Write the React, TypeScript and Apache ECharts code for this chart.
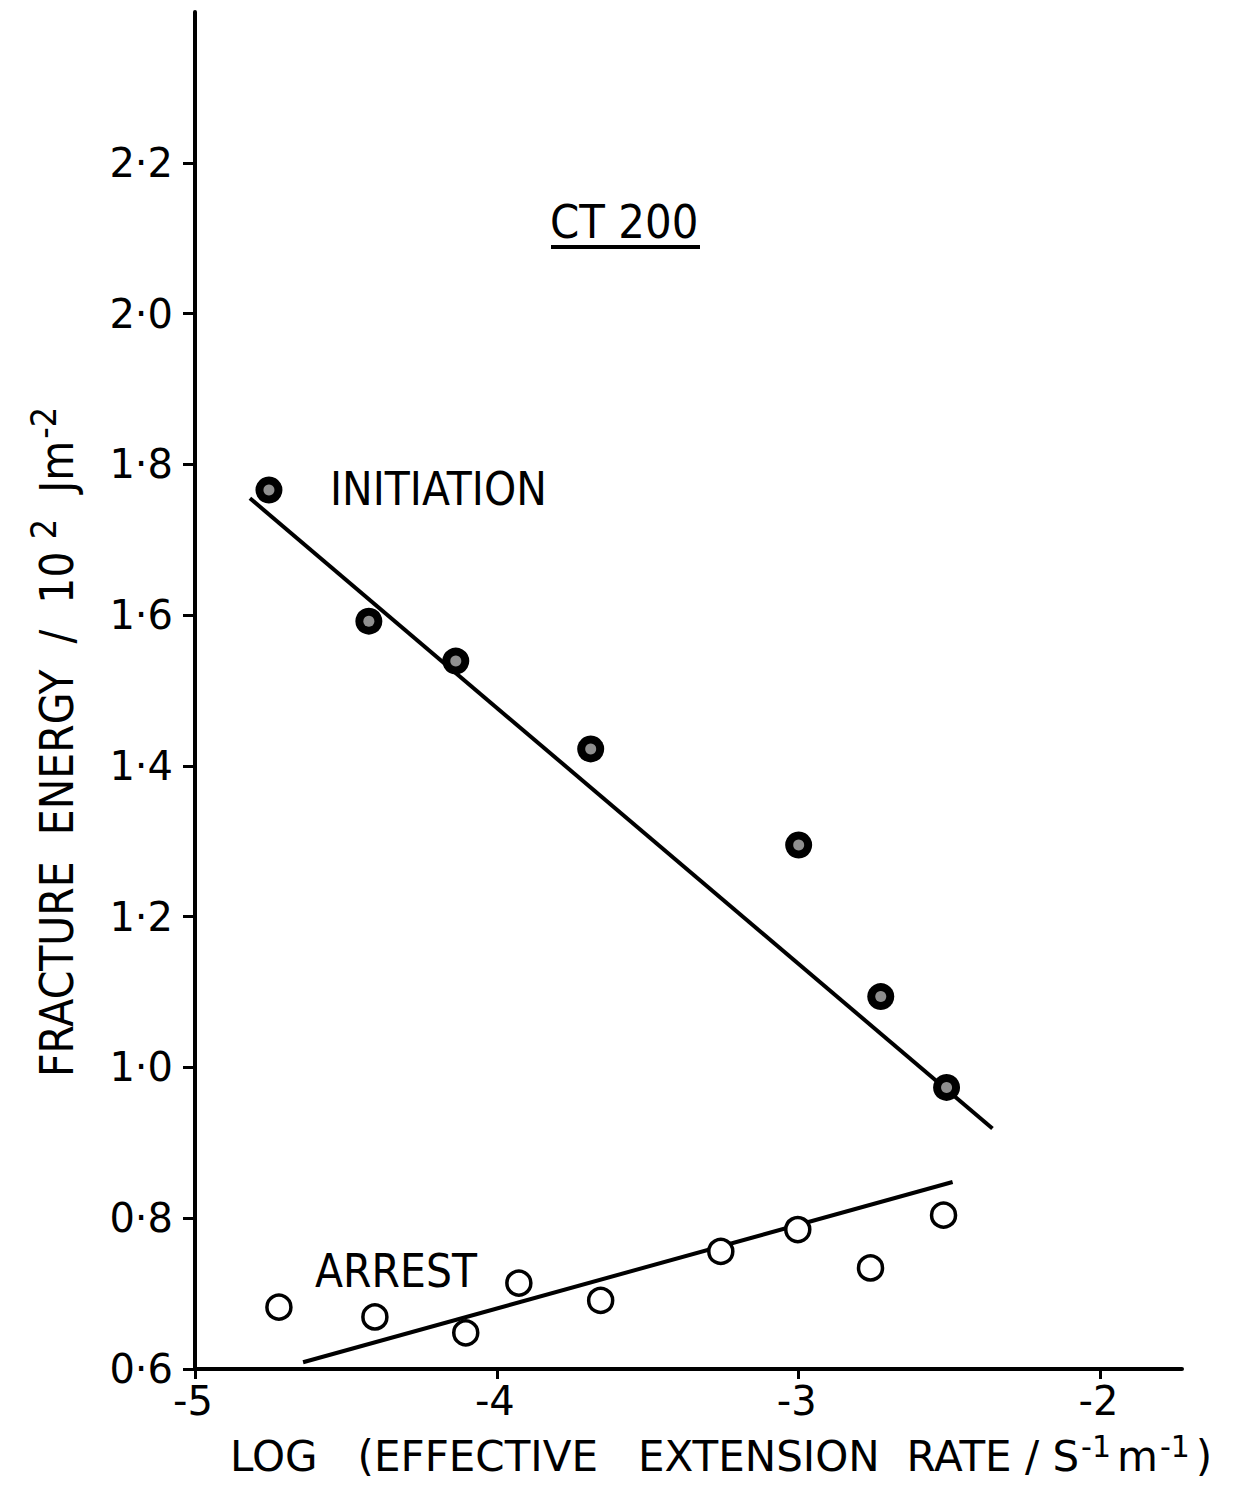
import React, { useEffect, useRef } from "react";
import * as echarts from "echarts";

const initiationX = [-4.755, -4.424, -4.136, -3.689, -3.0, -2.728, -2.51];
const initiationY = [1.766, 1.592, 1.539, 1.4225, 1.295, 1.094, 0.9735];
const initiationFitX = [-4.818, -2.358];
const initiationFitY = [1.755, 0.919];

const arrestX = [-4.722, -4.404, -4.103, -3.927, -3.656, -3.258, -3.003, -2.762, -2.52];
const arrestY = [0.682, 0.669, 0.648, 0.714, 0.691, 0.756, 0.785, 0.734, 0.804];
const arrestFitX = [-4.642, -2.49];
const arrestFitY = [0.609, 0.848];

const xTicks = [-5, -4, -3, -2];
const yTicks = [0.6, 0.8, 1.0, 1.2, 1.4, 1.6, 1.8, 2.0, 2.2];

const FONT = "'DejaVu Sans', sans-serif";

const pairs = (xs: number[], ys: number[]) => xs.map((x, i) => [x, ys[i]]);

export default function App() {
  const ref = useRef<HTMLDivElement>(null);
  useEffect(() => {
    if (!ref.current) return;
    const chart = echarts.init(ref.current, undefined, { renderer: "svg" });
    const axisLine = { show: true, lineStyle: { color: "#000", width: 4 } };
    const label = (text: string, x: number, y: number, size: number) => ({
      type: "text",
      x,
      y,
      scaleY: 1.12,
      style: { text, font: `${size}px ${FONT}`, fill: "#000", align: "left", verticalAlign: "middle" },
    });
    chart.setOption({
      animation: false,
      backgroundColor: "#fff",
      grid: { left: 195, right: 72, top: 12, bottom: 117, containLabel: false },
      xAxis: {
        type: "value",
        min: -5,
        max: -1.73,
        interval: 1,
        axisLine,
        splitLine: { show: false },
        axisTick: { show: true, length: 10, customValues: xTicks, lineStyle: { color: "#000", width: 3 } },
        axisLabel: {
          customValues: xTicks,
          formatter: (v: number) => "-" + Math.abs(v),
          color: "#000",
          fontFamily: FONT,
          fontSize: 40,
          margin: 18,
          lineHeight: 28,
          padding: [0, 4, 0, 0],
        },
      },
      yAxis: {
        type: "value",
        min: 0.6,
        max: 2.4,
        interval: 0.2,
        axisLine,
        splitLine: { show: false },
        axisTick: { show: true, length: 12, customValues: yTicks, lineStyle: { color: "#000", width: 3 } },
        axisLabel: {
          customValues: yTicks,
          formatter: (v: number) => v.toFixed(1).replace(".", "·"),
          color: "#000",
          fontFamily: FONT,
          fontSize: 40,
          margin: 22,
          lineHeight: 24,
          padding: [0, 0, 8, 0],
        },
      },
      series: [
        {
          type: "line",
          data: pairs(initiationFitX, initiationFitY),
          symbol: "none",
          lineStyle: { color: "#000", width: 4 },
          z: 2,
        },
        {
          type: "line",
          data: pairs(arrestFitX, arrestFitY),
          symbol: "none",
          lineStyle: { color: "#000", width: 4 },
          z: 2,
        },
        {
          type: "scatter",
          data: pairs(initiationX, initiationY),
          symbol: "circle",
          symbolSize: 27,
          itemStyle: { color: "#000", opacity: 1 },
          z: 3,
        },
        {
          type: "scatter",
          data: pairs(initiationX, initiationY),
          symbol: "circle",
          symbolSize: 11,
          itemStyle: { color: "#8f8f8f", opacity: 1 },
          z: 4,
        },
        {
          type: "scatter",
          data: pairs(arrestX, arrestY),
          symbol: "circle",
          symbolSize: 24,
          itemStyle: { color: "#fff", borderColor: "#000", borderWidth: 3.5, opacity: 1 },
          z: 3,
        },
      ],
      graphic: [
        label("CT 200", 550, 222, 42),
        {
          type: "line",
          shape: { x1: 551, y1: 247, x2: 700, y2: 247 },
          style: { stroke: "#000", lineWidth: 4 },
        },
        label("INITIATION", 330, 489, 41),
        label("ARREST", 315, 1271, 41),
        {
          type: "text",
          x: 230,
          y: 1456,
          style: {
            text: "{b|LOG   (EFFECTIVE   EXTENSION  RATE / S}{s|-1}{b|m}{s|-1}{b|)}",
            verticalAlign: "middle",
            align: "left",
            fill: "#000",
            rich: {
              b: { font: `42px ${FONT}`, fill: "#000" },
              s: { font: `30px ${FONT}`, fill: "#000", verticalAlign: "top", padding: [0, 6, 20, 2] },
            },
          },
        },
        {
          type: "text",
          x: 57,
          y: 742,
          rotation: Math.PI / 2,
          scaleY: 1.12,
          style: {
            text: "{b|FRACTURE  ENERGY  /  10}{s| 2}{b|  Jm}{s|-2}",
            align: "center",
            verticalAlign: "middle",
            fill: "#000",
            rich: {
              b: { font: `41px ${FONT}`, fill: "#000" },
              s: { font: `32px ${FONT}`, fill: "#000", verticalAlign: "top", padding: [0, 0, 24, 2] },
            },
          },
        },
      ],
    });
    return () => chart.dispose();
  }, []);
  return <div ref={ref} style={{ width: 1254, height: 1486, margin: -8 }} />;
}
